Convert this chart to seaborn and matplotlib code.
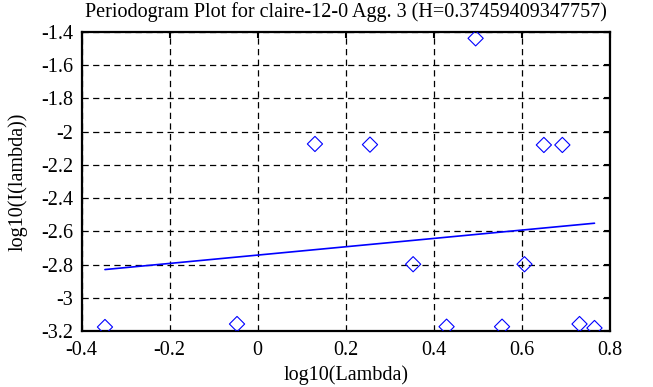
import numpy as np
import pandas as pd
import matplotlib
matplotlib.use("Agg")
import matplotlib.pyplot as plt
import seaborn as sns

# data
log_lambda = [-0.347, -0.047, 0.130, 0.255, 0.353, 0.429, 0.495, 0.555,
              0.606, 0.650, 0.692, 0.731, 0.765]
log_I = [-3.176, -3.158, -2.074, -2.078, -2.798, -3.174, -1.438, -3.174,
         -2.798, -2.080, -2.080, -3.158, -3.182]
H = 0.37459409347757
fit_intercept = -2.743
x_ticks = [-0.4, -0.2, 0, 0.2, 0.4, 0.6, 0.8]
y_ticks = [-3.2, -3.0, -2.8, -2.6, -2.4, -2.2, -2.0, -1.8, -1.6, -1.4]
title = "Periodogram Plot for claire-12-0 Agg. 3 (H=0.37459409347757)"

sns.set_theme(style="white")
plt.rcParams['font.family'] = ['Liberation Serif', 'DejaVu Serif']
plt.rcParams['axes.unicode_minus'] = False

df = pd.DataFrame({"x": log_lambda, "y": log_I})
slope = 1 - 2 * H
xl = np.array([min(log_lambda), max(log_lambda)])
line_df = pd.DataFrame({"x": xl, "y": fit_intercept + slope * xl})

fig = plt.figure(figsize=(6.53, 3.87), dpi=100)
ax = fig.add_axes([0.125, 0.1447, 0.809, 0.7726])

sns.lineplot(data=line_df, x="x", y="y", ax=ax, color="#0000ff", linewidth=1.2, zorder=3)
sns.scatterplot(data=df, x="x", y="y", ax=ax, marker="D", s=60,
                facecolor="none", edgecolor="#0000ff", linewidth=0.8, zorder=4)

fs = 14.5
ax.set_xlim(-0.4, 0.8)
ax.set_ylim(-3.2, -1.4)
ax.set_xticks(x_ticks)
ax.set_yticks(y_ticks)
ax.set_xticklabels(["%g" % v for v in x_ticks])
ax.set_yticklabels(["%g" % v for v in y_ticks])
ax.grid(True, color="black", linestyle=(0, (5, 3.5)), linewidth=0.9)
ax.tick_params(direction="in", length=4, width=1.5, top=True, right=True,
               labelsize=fs, colors="black")
ax.tick_params(axis="x", pad=7)
ax.tick_params(axis="y", pad=6)
for s in ax.spines.values():
    s.set_color("black")
    s.set_linewidth(1.6)
ax.set_xlabel("log10(Lambda)", fontsize=fs, color="black", labelpad=4)
ax.set_ylabel("log10(I(lambda))", fontsize=fs, color="black", labelpad=10)
ax.set_title(title, fontsize=fs, color="black", pad=11)
fig.savefig("out.png", dpi=100)
